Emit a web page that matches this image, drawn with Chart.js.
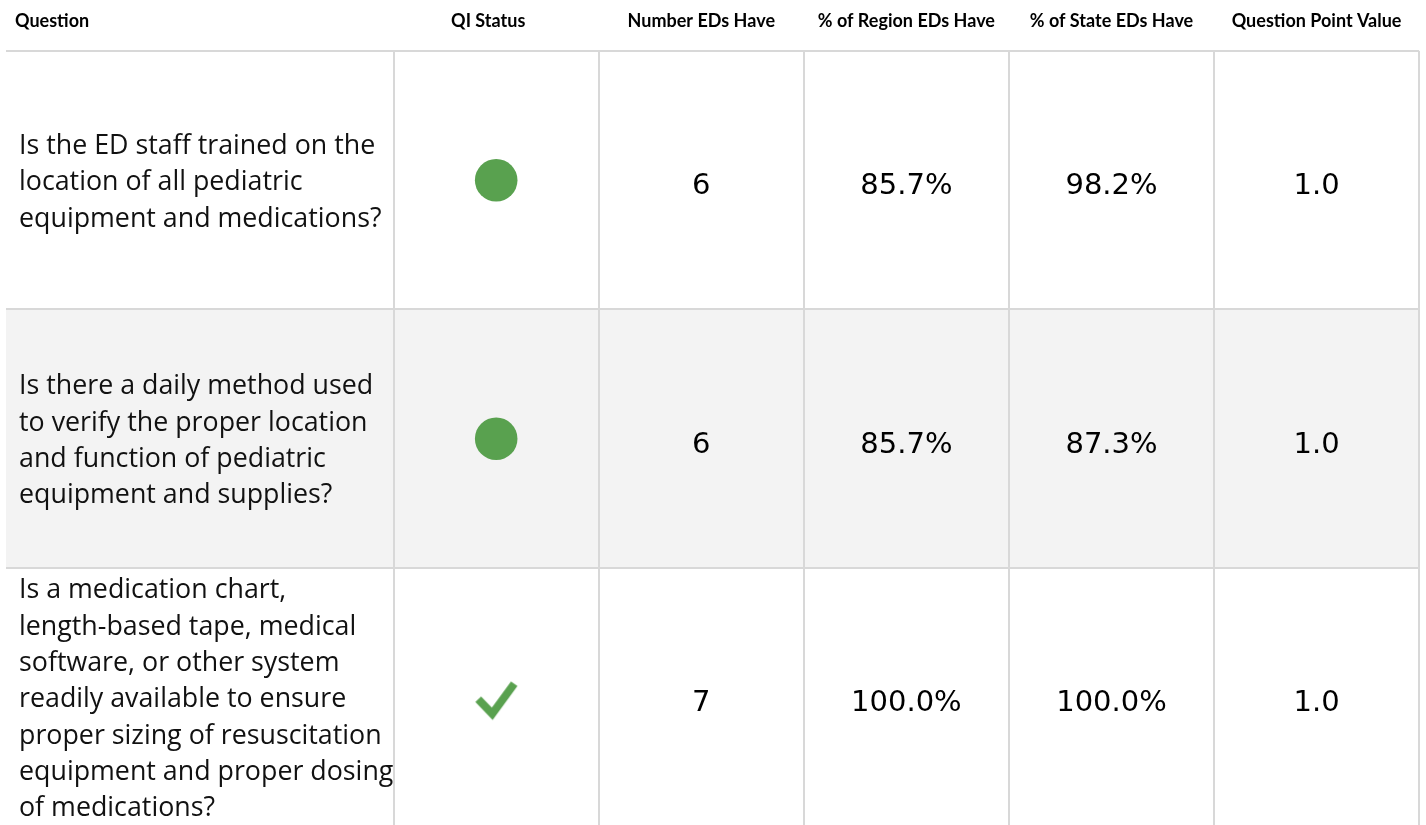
<!DOCTYPE html>
<html>
<head>
<meta charset="utf-8">
<script src="https://cdn.jsdelivr.net/npm/chart.js@4.4.0/dist/chart.umd.min.js"></script>
<style>
html,body{margin:0;padding:0;background:#fff;overflow:hidden}
#wrap{width:1426px;height:825px;position:relative}
canvas{display:block}
</style>
</head>
<body>
<div id="wrap"><canvas id="c" width="1426" height="825"></canvas></div>
<script>
// ---------- DATA ----------
const columnHeaders = ["Question", "QI Status", "Number EDs Have", "% of Region EDs Have", "% of State EDs Have", "Question Point Value"];
const questionLines = [
  ["Is the ED staff trained on the", "location of all pediatric", "equipment and medications?"],
  ["Is there a daily method used", "to verify the proper location", "and function of pediatric", "equipment and supplies?"],
  ["Is a medication chart,", "length-based tape, medical", "software, or other system", "readily available to ensure", "proper sizing of resuscitation", "equipment and proper dosing", "of medications?"]
];
const qiStatus = ["circle", "circle", "check"];
const numberEDsHave = [6, 6, 7];
const pctRegionEDsHave = [85.7, 85.7, 100.0];
const pctStateEDsHave = [98.2, 87.3, 100.0];
const questionPointValue = [1.0, 1.0, 1.0];

// ---------- LAYOUT (scale units) ----------
const PX_PER_COL = 205.1, PX_PER_ROW = 258.5, LEFT_PAD = 6, HEADER_PX = 51;
const COL_EDGES = [0, 1.89, 2.89, 3.89, 4.89, 5.89, 6.89];
const X_MIN = -LEFT_PAD / PX_PER_COL, X_MAX = (1426 - LEFT_PAD) / PX_PER_COL;
const Y_MIN = -HEADER_PX / PX_PER_ROW, Y_MAX = (825 - HEADER_PX) / PX_PER_ROW;
const colCenter = i => (COL_EDGES[i] + COL_EDGES[i + 1]) / 2;

const GREEN = '#59a14f';
const LINE = '#d8d8d8';
const ROW_ALT = '#f3f3f3';

// check mark as point style image
function makeCheck() {
  const c = document.createElement('canvas');
  c.width = 60; c.height = 60;
  const g = c.getContext('2d');
  g.strokeStyle = GREEN;
  g.lineWidth = 8;
  g.lineCap = 'butt';
  g.lineJoin = 'miter';
  g.beginPath();
  g.moveTo(12, 32);
  g.lineTo(26, 46.5);
  g.lineTo(48, 16.5);
  g.stroke();
  return c;
}
const checkImg = makeCheck();

const tablePlugin = {
  id: 'tablePlugin',
  beforeDatasetsDraw(chart) {
    const ctx = chart.ctx;
    const xs = chart.scales.x, ys = chart.scales.y;
    const X = v => xs.getPixelForValue(v), Y = v => ys.getPixelForValue(v);
    const nRows = questionLines.length;
    ctx.save();
    // alternating row background
    for (let r = 0; r < nRows; r++) {
      if (r % 2 === 1) {
        ctx.fillStyle = ROW_ALT;
        ctx.fillRect(X(COL_EDGES[0]), Y(r), X(COL_EDGES[COL_EDGES.length - 1]) - X(COL_EDGES[0]), Y(r + 1) - Y(r));
      }
    }
    // horizontal lines
    ctx.strokeStyle = LINE;
    ctx.lineWidth = 2;
    for (let r = 0; r < nRows; r++) {
      const y = Math.round(Y(r));
      ctx.beginPath();
      ctx.moveTo(X(COL_EDGES[0]), y);
      ctx.lineTo(X(COL_EDGES[COL_EDGES.length - 1]), y);
      ctx.stroke();
    }
    // vertical lines
    for (let c = 1; c < COL_EDGES.length; c++) {
      const x = Math.round(X(COL_EDGES[c]));
      ctx.beginPath();
      ctx.moveTo(x, Y(0));
      ctx.lineTo(x, Y(Y_MAX));
      ctx.stroke();
    }
    // headers
    ctx.fillStyle = '#000';
    ctx.font = 'bold 18px Lato';
    ctx.textBaseline = 'alphabetic';
    const hb = Y(Y_MIN) + 27;
    columnHeaders.forEach((h, i) => {
      if (i === 0) {
        ctx.textAlign = 'left';
        ctx.fillText(h, X(COL_EDGES[0]) + 9, hb);
      } else {
        ctx.textAlign = 'center';
        ctx.fillText(h, X(colCenter(i)) + (i === 1 ? -8 : 0), hb);
      }
    });
    // question text
    const LH = 36.3;
    ctx.font = '26.8px "Open Sans"';
    ctx.textAlign = 'left';
    ctx.fillStyle = '#111';
    questionLines.forEach((lines, r) => {
      const cy = Y(r + 0.5);
      lines.forEach((t, k) => {
        ctx.fillText(t, X(COL_EDGES[0]) + 13, cy + (k - (lines.length - 1) / 2) * LH + 10);
      });
    });
    // numeric columns
    ctx.font = '29px "DejaVu Sans"';
    ctx.textAlign = 'center';
    ctx.fillStyle = '#000';
    for (let r = 0; r < nRows; r++) {
      const by = Y(r + 0.5) + 14;
      ctx.fillText(String(numberEDsHave[r]), X(colCenter(2)), by);
      ctx.fillText(pctRegionEDsHave[r].toFixed(1) + '%', X(colCenter(3)), by);
      ctx.fillText(pctStateEDsHave[r].toFixed(1) + '%', X(colCenter(4)), by);
      ctx.fillText(questionPointValue[r].toFixed(1), X(colCenter(5)), by);
    }
    ctx.restore();
  }
};

new Chart(document.getElementById('c'), {
  type: 'scatter',
  data: {
    datasets: [{
      label: 'QI Status',
      data: qiStatus.map((s, i) => ({ x: colCenter(1), y: i + 0.5 })),
      pointStyle: qiStatus.map(s => s === 'check' ? checkImg : 'circle'),
      pointRadius: 21.3,
      pointHoverRadius: 21.3,
      backgroundColor: GREEN,
      borderWidth: 0,
      clip: false
    }]
  },
  options: {
    responsive: false,
    devicePixelRatio: 1,
    animation: false,
    events: [],
    layout: { padding: 0, autoPadding: false },
    plugins: { legend: { display: false }, tooltip: { enabled: false } },
    scales: {
      x: { type: 'linear', min: X_MIN, max: X_MAX, display: false },
      y: { type: 'linear', min: Y_MIN, max: Y_MAX, reverse: true, display: false }
    }
  },
  plugins: [tablePlugin]
});
</script>
</body>
</html>
